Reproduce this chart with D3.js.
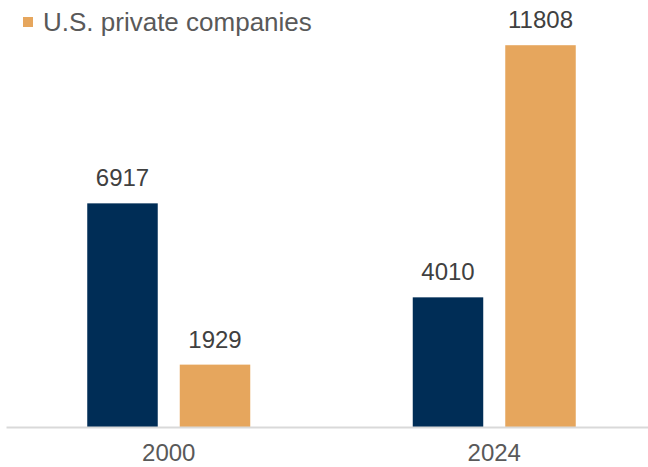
<!DOCTYPE html>
<html>
<head>
<meta charset="utf-8">
<script src="https://cdn.jsdelivr.net/npm/d3@7"></script>
<style>
  body { margin: 0; background: #fff; }
  text { font-family: "Liberation Sans", Arial, sans-serif; }
</style>
</head>
<body>
<div id="chart"></div>
<script>
var categories = ["2000", "2024"];
var seriesNames = ["U.S. public companies", "U.S. private companies"];
var publicValues = [6917, 4010];
var privateValues = [1929, 11808];
var colors = ["#002D56", "#E6A65D"];

var width = 648, height = 467, baseline = 427;

var svg = d3.select("#chart")
    .append("svg")
    .attr("width", width)
    .attr("height", height);

var x0 = d3.scaleBand()
    .domain(categories)
    .range([6, 657]);

var groupW = 163;
var x1 = d3.scaleBand()
    .domain(seriesNames)
    .range([(x0.bandwidth() - groupW) / 2, (x0.bandwidth() + groupW) / 2])
    .paddingInner(0.238);

var y = d3.scaleLinear()
    .domain([0, 12000])
    .range([baseline, 39]);

var rows = categories.map(function (c, i) {
    return { cat: c, vals: [publicValues[i], privateValues[i]] };
});

var groups = svg.selectAll("g.grp")
    .data(rows)
    .enter()
    .append("g")
    .attr("class", "grp")
    .attr("transform", function (d) { return "translate(" + x0(d.cat) + ",0)"; });

var bars = groups.selectAll("g.bar")
    .data(function (d) {
        return d.vals.map(function (v, j) { return { name: seriesNames[j], v: v, j: j }; });
    })
    .enter()
    .append("g")
    .attr("class", "bar");

bars.append("rect")
    .attr("x", function (d) { return x1(d.name); })
    .attr("y", function (d) { return y(d.v); })
    .attr("width", x1.bandwidth())
    .attr("height", function (d) { return baseline - y(d.v); })
    .style("fill", function (d) { return colors[d.j]; });

bars.append("text")
    .attr("x", function (d) { return x1(d.name) + x1.bandwidth() / 2; })
    .attr("y", function (d) { return y(d.v) - 17; })
    .attr("text-anchor", "middle")
    .style("font-size", "24px")
    .style("fill", "#404040")
    .text(function (d) { return d.v; });

// x axis
var xAxis = svg.append("g")
    .attr("transform", "translate(0," + baseline + ")")
    .call(d3.axisBottom(x0).tickSize(0).tickPadding(17));
xAxis.select(".domain")
    .attr("stroke", "#D9D9D9")
    .attr("stroke-width", 2);
xAxis.selectAll("text")
    .style("font-size", "24px")
    .style("fill", "#595959")
    .style("font-family", "'Liberation Sans', Arial, sans-serif");

// legend (only the private series is visible)
var legend = svg.append("g").attr("transform", "translate(23,17)");
legend.append("rect")
    .attr("width", 10)
    .attr("height", 10)
    .style("fill", colors[1]);
legend.append("text")
    .attr("x", 20)
    .attr("y", 14)
    .style("font-size", "26px")
    .style("fill", "#595959")
    .text(seriesNames[1]);
</script>
</body>
</html>
